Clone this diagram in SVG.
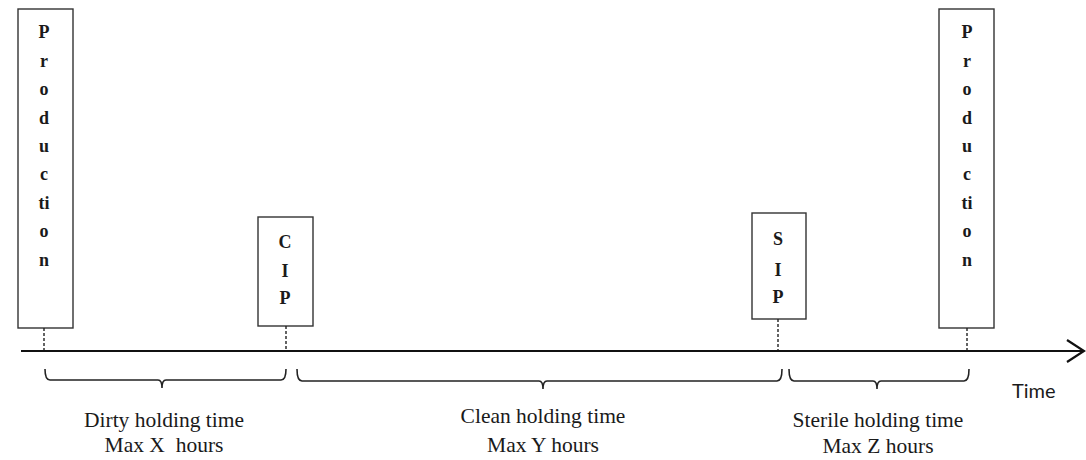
<svg xmlns="http://www.w3.org/2000/svg" width="1086" height="460" viewBox="0 0 1086 460">
<style>
.box{fill:#fff;stroke:#333;stroke-width:1.4}
.lt{font-family:"Liberation Serif",serif;font-size:18px;font-weight:bold;fill:#1a1a1a;text-anchor:middle}
.lbl{font-family:"Liberation Serif",serif;font-size:21.5px;fill:#1a1a1a;text-anchor:middle;white-space:pre}
.dash{stroke:#222;stroke-width:1.4;stroke-dasharray:3,2;fill:none}
.br{stroke:#222;stroke-width:1.6;fill:none}
</style>
<rect width="1086" height="460" fill="#fff"/>
<g id="production1">
<rect class="box" x="18" y="9" width="55" height="319"/>
<text class="lt" x="44" y="38">P</text>
<text class="lt" x="44" y="67">r</text>
<text class="lt" x="44" y="95">o</text>
<text class="lt" x="44" y="124">d</text>
<text class="lt" x="44" y="152">u</text>
<text class="lt" x="44" y="180">c</text>
<text class="lt" x="44" y="209">ti</text>
<text class="lt" x="44" y="237">o</text>
<text class="lt" x="44" y="266">n</text>
</g>
<g id="cip">
<rect class="box" x="258" y="217" width="55" height="109"/>
<text class="lt" x="285" y="248">C</text>
<text class="lt" x="285" y="277">I</text>
<text class="lt" x="285" y="304">P</text>
</g>
<g id="sip">
<rect class="box" x="752" y="213" width="54" height="106"/>
<text class="lt" x="778" y="245">S</text>
<text class="lt" x="778" y="276">I</text>
<text class="lt" x="778" y="303">P</text>
</g>
<g id="production2">
<rect class="box" x="939" y="9" width="55" height="319"/>
<text class="lt" x="967" y="38">P</text>
<text class="lt" x="967" y="67">r</text>
<text class="lt" x="967" y="95">o</text>
<text class="lt" x="967" y="124">d</text>
<text class="lt" x="967" y="152">u</text>
<text class="lt" x="967" y="180">c</text>
<text class="lt" x="967" y="209">ti</text>
<text class="lt" x="967" y="237">o</text>
<text class="lt" x="967" y="266">n</text>
</g>
<g id="connectors">
<line class="dash" x1="44" y1="328" x2="44" y2="351"/>
<line class="dash" x1="286" y1="326" x2="286" y2="351"/>
<line class="dash" x1="778" y1="319" x2="778" y2="351"/>
<line class="dash" x1="967" y1="328" x2="967" y2="351"/>
<line x1="21" y1="351" x2="1084" y2="351" stroke="#111" stroke-width="2.2"/>
<polyline points="1067,340 1084,351 1067,362" fill="none" stroke="#111" stroke-width="2.2"/>
<path class="br" d="M45,369 Q45,380 50,380 L158,380 Q162,380 162,388 Q162,380 166,380 L281,380 Q286,380 286,369"/>
<path class="br" d="M297,369 Q297,381 302,381 L539,381 Q543,381 543,389 Q543,381 547,381 L777,381 Q782,381 782,369"/>
<path class="br" d="M789,369 Q789,381 794,381 L873,381 Q877,381 877,389 Q877,381 881,381 L964,381 Q969,381 969,369"/>
</g>
<g id="labels">
<text class="lbl" x="164" y="427">Dirty holding time</text>
<text class="lbl" x="164" y="452" xml:space="preserve">Max X  hours</text>
<text class="lbl" x="543" y="423">Clean holding time</text>
<text class="lbl" x="543" y="452">Max Y hours</text>
<text class="lbl" x="878" y="427">Sterile holding time</text>
<text class="lbl" x="878" y="453">Max Z hours</text>
<text x="1012" y="398" font-family="Lato, sans-serif" font-size="20" fill="#1a1a1a">Time</text>
</g>
</svg>
